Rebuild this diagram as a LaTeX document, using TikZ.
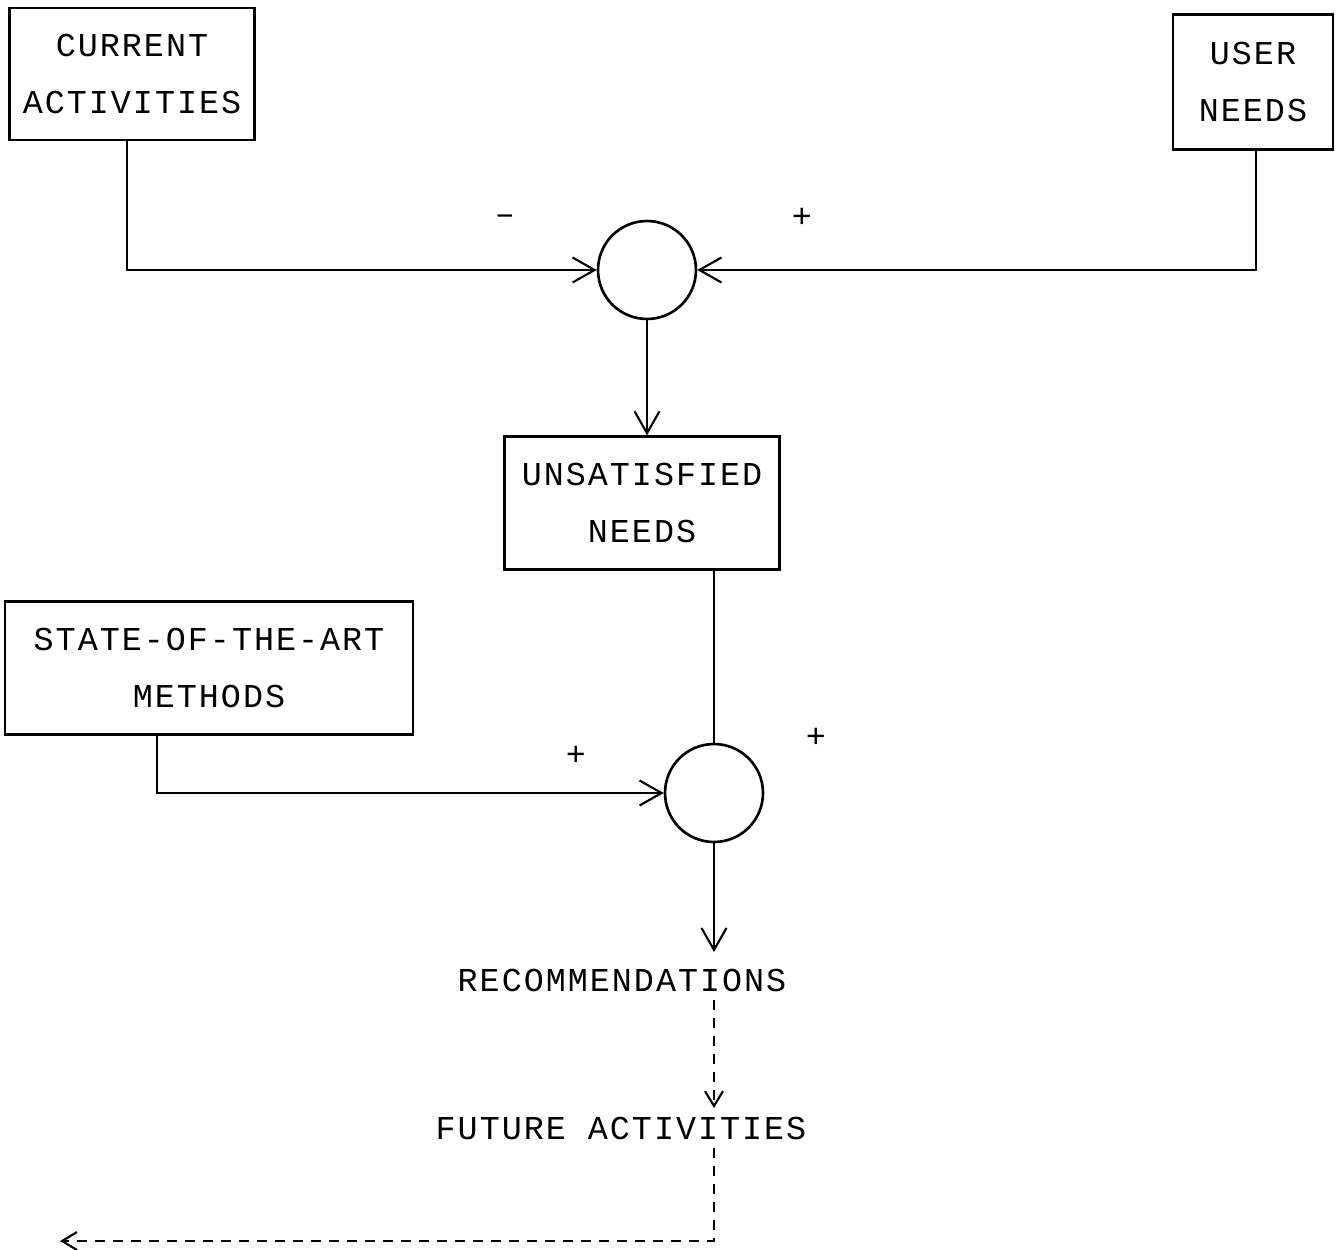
\documentclass[tikz,border=0pt]{standalone}
\usepackage{fontspec}
\setmainfont{Liberation Mono}[LetterSpace=6]
\usetikzlibrary{arrows.meta, calc}

\begin{document}
\begin{tikzpicture}[x=0.02cm, y=-0.02cm, >={Straight Barb[length=4.4mm, width=5mm]}, line width=1.2pt,
  every node/.style={font=\fontsize{19}{32}\selectfont},
  block/.style={draw, line width=1.3pt, align=center, inner sep=0pt},
  junction/.style={draw, circle, line width=1.5pt, minimum size=1.96cm, inner sep=0pt},
  dashline/.style={dash pattern=on 0.2cm off 0.16cm, -{Straight Barb[length=3mm, width=3.6mm]}}]
  \useasboundingbox (0,0) rectangle (1339,1250);
  \node[block, minimum width=4.9cm, minimum height=2.64cm] (current) at (132,74) {CURRENT\\ACTIVITIES};
  \node[block, minimum width=3.2cm, minimum height=2.7cm] (user) at (1253,82) {USER\\NEEDS};
  \node[junction] (sum1) at (647,270) {};
  \node[block, minimum width=5.5cm, minimum height=2.66cm] (unsat) at (642,503) {UNSATISFIED\\NEEDS};
  \node[block, minimum width=8.16cm, minimum height=2.66cm] (soa) at (209,668) {STATE-OF-THE-ART\\METHODS};
  \node[junction] (sum2) at (714,793) {};
  \node[inner sep=2pt] (recs) at (622,980) {RECOMMENDATIONS};
  \node[inner sep=2pt] (future) at (621,1128) {FUTURE ACTIVITIES};
  \coordinate (exit) at (60,1241);
  % signs at the junctions
  \node (minus1) at (505,220) {–};
  \node (plus1) at (802,218) {+};
  \node (plus2) at (576,756) {+};
  \node (plus3) at (816,738) {+};
  \draw[->] ($(current.south)+(-5,0)$) |- (sum1.west);
  \draw[->] ($(user.south)+(3,0)$) |- (sum1.east);
  \draw[->] (sum1.south) -- (sum1 |- unsat.north);
  \draw (unsat.south -| sum2) -- (sum2.north);
  \draw[->] ($(soa.south)+(-52,0)$) |- (sum2.west);
  \draw[->] (sum2.south) -- ($(sum2 |- recs.north)+(0,-12)$);
  \draw[dashline] ($(sum2 |- recs.south)+(0,4)$) -- ($(sum2 |- future.north)+(0,-4)$);
  \draw[dashline] ($(sum2 |- future.south)+(0,4)$) |- (exit);
\end{tikzpicture}
\end{document}
